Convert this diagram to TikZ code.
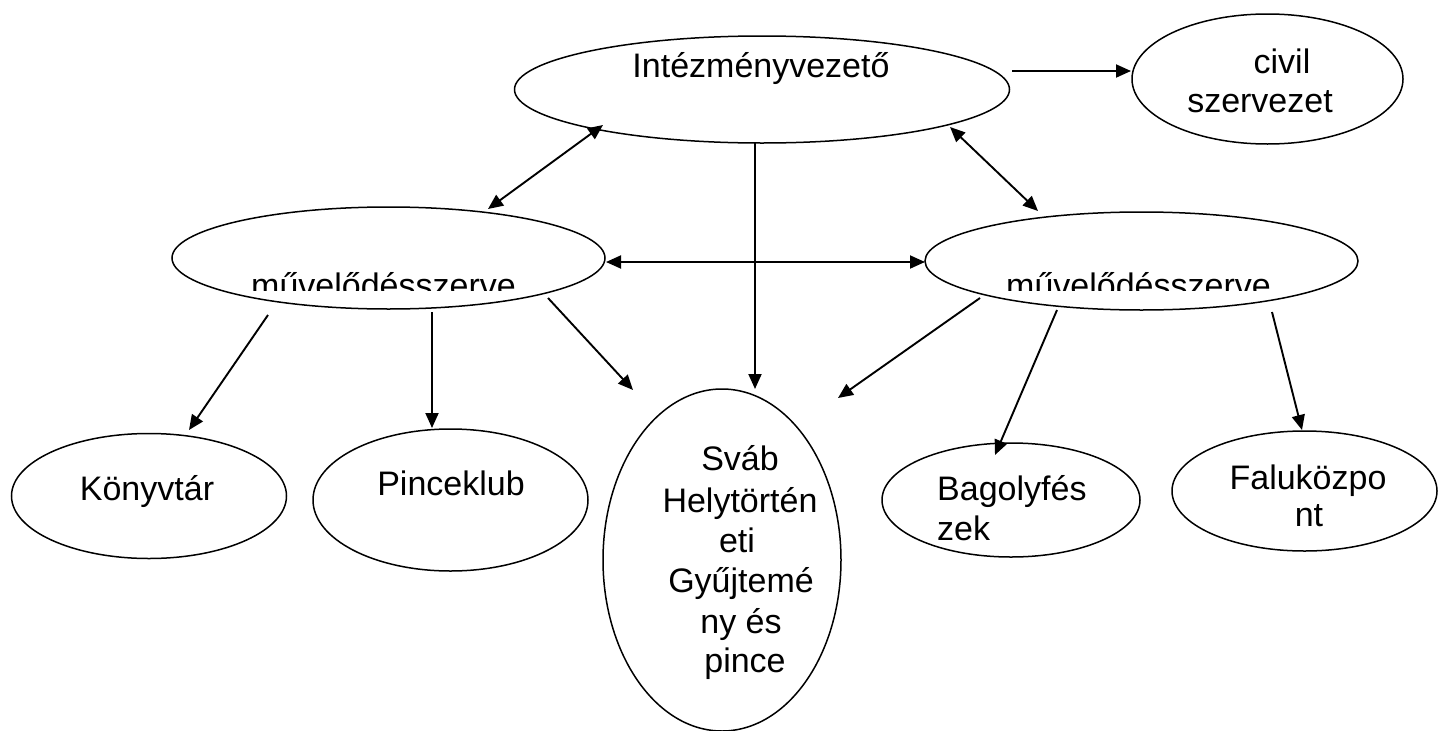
\documentclass[tikz,border=0pt]{standalone}
\usepackage{fontspec}
\setmainfont{Liberation Sans}
\usetikzlibrary{arrows.meta,calc,shapes.geometric}
\tikzset{
  ell/.style={draw, ellipse, line width=1.5pt, inner sep=0pt},
  txt/.style={inner sep=0pt, anchor=base, font=\fontsize{34}{40}\selectfont},
  arr/.style={line width=1.9pt, -{Triangle[length=15pt,width=13pt]}},
  darr/.style={line width=1.9pt, {Triangle[length=15pt,width=13pt]}-{Triangle[length=15pt,width=13pt]}}
}
\begin{document}
\begin{tikzpicture}[x=1pt,y=-1pt]
\useasboundingbox (0,0) rectangle (1438,731);
% ellipses
\node[ell, minimum width=495pt, minimum height=107pt] (int) at (762,89.5) {};
\node[ell, minimum width=271pt, minimum height=130pt] (civ) at (1267.5,79) {};
\node[ell, minimum width=433pt, minimum height=102pt] (lm) at (388.5,258) {};
\node[ell, minimum width=433pt, minimum height=98pt] (rm) at (1141.5,261) {};
\node[ell, minimum width=275pt, minimum height=125pt] (kon) at (149,496) {};
\node[ell, minimum width=275pt, minimum height=142pt] (pin) at (450.5,500) {};
\node[ell, minimum width=238pt, minimum height=342pt] (sv) at (722,560) {};
\node[ell, minimum width=258pt, minimum height=114pt] (bag) at (1011,500) {};
\node[ell, minimum width=265pt, minimum height=120pt] (fal) at (1304.5,491) {};
% texts
\node[txt] (tint) at (761,77) {Intézményvezető};
\node[txt] (tciv1) at (1282,73) {civil};
\node[txt] (tciv2) at (1260,112) {szervezet};
\begin{scope}
\clip (0,0) rectangle (1438,290);
\node[txt] (tlm) at (383.5,297) {művelődésszerve};
\node[txt] (trm) at (1138.5,297) {művelődésszerve};
\end{scope}
\node[txt] (tkon) at (147,500) {Könyvtár};
\node[txt] (tpin) at (451,495) {Pinceklub};
\node[txt] (tsv1) at (740,470) {Sváb};
\node[txt] (tsv2) at (740,512) {Helytörtén};
\node[txt] (tsv3) at (737,552) {eti};
\node[txt] (tsv4) at (741,592) {Gyűjtemé};
\node[txt] (tsv5) at (741,633) {ny és};
\node[txt] (tsv6) at (745,672) {pince};
\node[txt, anchor=base west] (tbag1) at (937,500) {Bagolyfés};
\node[txt, anchor=base west] (tbag2) at (937,540) {zek};
\node[txt] (tfal1) at (1308,489) {Faluközpo};
\node[txt] (tfal2) at (1309,526) {nt};
% connectors
\draw[arr] ($(int.center)+(250,-18.5)$) -- ($(civ.center)+(-136.5,-8)$);
\draw[darr] ($(lm.center)+(99.5,-49)$) -- ($(int.center)+(-159,35.5)$);
\draw[darr] ($(int.center)+(188,37.5)$) -- ($(rm.center)+(-103.5,-50)$);
\draw[darr] ($(lm.center)+(217.5,4)$) -- ($(rm.center)+(-216.5,1)$);
\draw[arr] ($(int.center)+(-7,53.5)$) -- ($(sv.center)+(33,-171)$);
\draw[arr] ($(lm.center)+(-120.5,57)$) -- ($(kon.center)+(40,-66)$);
\draw[arr] ($(lm.center)+(43.5,54)$) -- ($(pin.center)+(-18.5,-72)$);
\draw[arr] ($(lm.center)+(159.5,40)$) -- ($(sv.center)+(-89,-170)$);
\draw[arr] ($(rm.center)+(-161.5,37)$) -- ($(sv.center)+(116,-162)$);
\draw[arr] ($(rm.center)+(-84.5,49)$) -- ($(bag.center)+(-16,-45)$);
\draw[arr] ($(rm.center)+(130.5,51)$) -- ($(fal.center)+(-2.5,-61)$);
\end{tikzpicture}
\end{document}
